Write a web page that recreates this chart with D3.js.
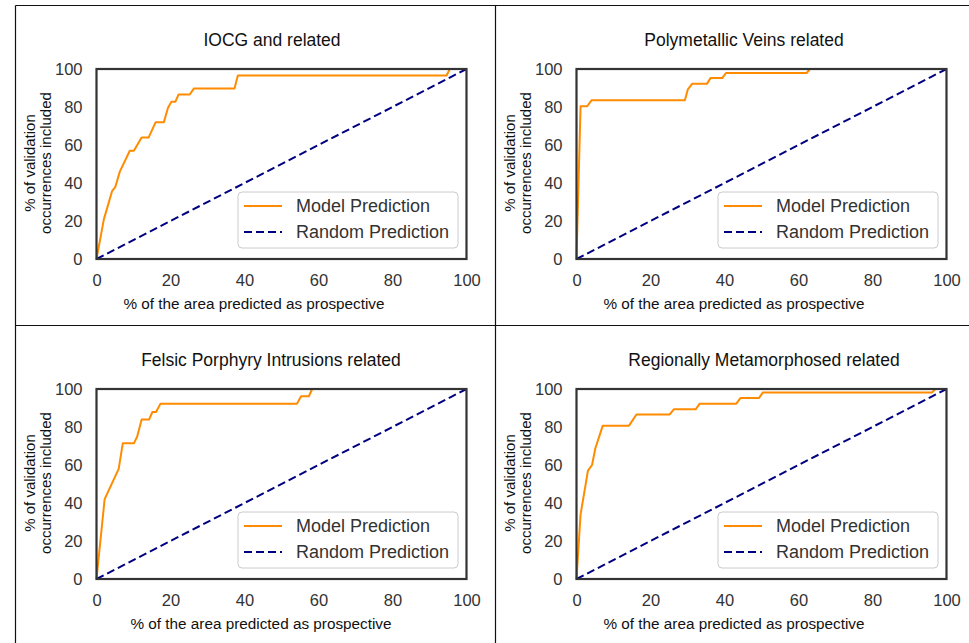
<!DOCTYPE html>
<html>
<head>
<meta charset="utf-8">
<script src="https://cdn.jsdelivr.net/npm/d3@7"></script>
<style>
  body { margin: 0; background: #fff; }
  svg { font-family: "Liberation Sans", Arial, sans-serif; }
  .tick text { fill: #333; font-size: 16.5px; }
</style>
</head>
<body>
<svg id="chart" width="969" height="643"></svg>
<script>
// panel titles
const titles = ["IOCG and related", "Polymetallic Veins related",
                "Felsic Porphyry Intrusions related", "Regionally Metamorphosed related"];
const tickValues = [0, 20, 40, 60, 80, 100];

// cumulative curves (% area, % occurrences)
const iocgX = [0, 2, 4.2, 5.1, 6.3, 9, 10.1, 12.2, 14.1, 16, 18.2, 19.3, 20.2, 21.3, 22.2, 25.2, 26.3, 37.3, 38.2, 94.6, 95.5, 100];
const iocgY = [0, 21, 35.7, 38, 46, 57, 57, 64, 64, 72, 72, 79.5, 82.7, 82.7, 86.6, 86.6, 89.7, 89.7, 96.6, 96.6, 100, 100];
const polyX = [0, 1.1, 2.9, 4.1, 29.3, 30.1, 31.3, 35.3, 36.2, 39.4, 40.4, 62.2, 63.1, 100];
const polyY = [0, 80.4, 80.4, 83.6, 83.6, 89.3, 92.3, 92.3, 95.2, 95.2, 97.9, 97.9, 100, 100];
const felsicX = [0, 2.2, 6, 7.1, 10.1, 11, 12.2, 14.2, 15.1, 16.1, 17.3, 54.2, 55.3, 57.4, 58.3, 100];
const felsicY = [0, 42, 58, 71.4, 71.4, 75, 83.9, 83.9, 87.9, 87.9, 92.3, 92.3, 96.2, 96.2, 100, 100];
const regionX = [0, 1.1, 3.1, 4.2, 5.1, 7.1, 14.2, 16.2, 25.2, 26.3, 32.2, 33.3, 43.2, 44.3, 49.3, 50.4, 96.1, 97, 100];
const regionY = [0, 34, 57, 60, 68.8, 80.7, 80.7, 86.6, 86.6, 89.3, 89.3, 92.3, 92.3, 95.2, 95.2, 98.2, 98.2, 100, 100];
const randomX = [0, 100];
const randomY = [0, 100];

const curves = [[iocgX, iocgY], [polyX, polyY], [felsicX, felsicY], [regionX, regionY]];

const svg = d3.select("#chart");

// table grid lines round the four figures
const grid = svg.append("g").attr("stroke", "#111").attr("stroke-width", 1.2);
grid.append("line").attr("x1", 15.5).attr("x2", 969).attr("y1", 5.5).attr("y2", 5.5);
grid.append("line").attr("x1", 15.5).attr("x2", 969).attr("y1", 325.5).attr("y2", 325.5);
grid.append("line").attr("x1", 15.5).attr("x2", 15.5).attr("y1", 5.5).attr("y2", 643);
grid.append("line").attr("x1", 495.5).attr("x2", 495.5).attr("y1", 5.5).attr("y2", 643);

// plot origin, title centre and x-label centre for each figure
const panels = [
  {x: 96.5, y: 69, tx: 272, lx: 254},
  {x: 576.5, y: 69, tx: 744, lx: 734},
  {x: 96.5, y: 389, tx: 271, lx: 261},
  {x: 576.5, y: 389, tx: 764, lx: 734}
];
const w = 370, h = 190;

const x = d3.scaleLinear().domain([0, 100]).range([0, w]);
const y = d3.scaleLinear().domain([0, 100]).range([h, 0]);

panels.forEach((p, i) => {
  const g = svg.append("g").attr("transform", `translate(${p.x},${p.y})`);

  svg.append("text")
    .attr("x", p.tx).attr("y", p.y - 23)
    .attr("text-anchor", "middle")
    .attr("font-size", 17.5)
    .attr("fill", "#111")
    .text(titles[i]);

  g.append("g")
    .attr("transform", `translate(0,${h})`)
    .call(d3.axisBottom(x).tickValues(tickValues).tickSize(0).tickPadding(15))
    .call(a => a.select(".domain").remove());

  g.append("g")
    .call(d3.axisLeft(y).tickValues(tickValues).tickSize(0).tickPadding(14))
    .call(a => a.select(".domain").remove());

  g.append("text")
    .attr("x", p.lx - p.x).attr("y", h + 50)
    .attr("text-anchor", "middle")
    .attr("font-size", 15.3).attr("fill", "#111")
    .text("% of the area predicted as prospective");

  const yl = g.append("text")
    .attr("transform", `translate(-62,${h / 2 - 1}) rotate(-90)`)
    .attr("text-anchor", "middle")
    .attr("font-size", 15).attr("fill", "#111");
  yl.append("tspan").attr("x", 0).attr("dy", 0).text("% of validation");
  yl.append("tspan").attr("x", 0).attr("dy", 16.5).text("occurrences included");

  const line = d3.line().x(d => x(d[0])).y(d => y(d[1]));

  g.append("path")
    .datum(d3.zip(curves[i][0], curves[i][1]))
    .attr("fill", "none").attr("stroke", "darkorange").attr("stroke-width", 2)
    .attr("stroke-linejoin", "round")
    .attr("d", line);

  g.append("path")
    .datum(d3.zip(randomX, randomY))
    .attr("fill", "none").attr("stroke", "navy").attr("stroke-width", 2)
    .attr("stroke-dasharray", "8,4")
    .attr("d", line);

  g.append("rect")
    .attr("width", w).attr("height", h)
    .attr("fill", "none").attr("stroke", "#333").attr("stroke-width", 2.2);

  // legend
  const lg = g.append("g").attr("transform", `translate(${w - 228.5},${h - 67})`);
  lg.append("rect")
    .attr("width", 220).attr("height", 56).attr("rx", 4)
    .attr("fill", "#fff").attr("fill-opacity", 0.8)
    .attr("stroke", "#ccc").attr("stroke-width", 1);
  const items = [
    {label: "Model Prediction", color: "darkorange", dash: null},
    {label: "Random Prediction", color: "navy", dash: "8,4"}
  ];
  items.forEach((it, k) => {
    const yy = 14 + k * 26;
    lg.append("line")
      .attr("x1", 6).attr("x2", 44).attr("y1", yy).attr("y2", yy)
      .attr("stroke", it.color).attr("stroke-width", 2)
      .attr("stroke-dasharray", it.dash);
    lg.append("text")
      .attr("x", 58).attr("y", yy).attr("dy", "0.35em")
      .attr("font-size", 18).attr("fill", "#333")
      .text(it.label);
  });
});
</script>
</body>
</html>
